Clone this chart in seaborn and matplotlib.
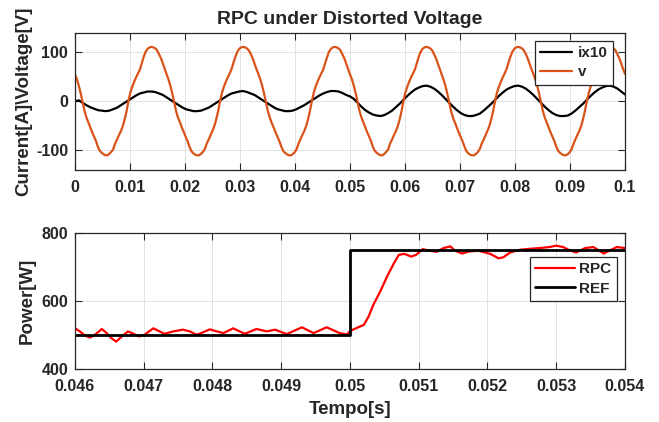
import numpy as np
import pandas as pd
import matplotlib
matplotlib.use("Agg")
import matplotlib.pyplot as plt
import seaborn as sns

# ---- data -------------------------------------------------------------
# grid voltage, sampled every 1/2880 s (48 per 60 Hz cycle), 0 .. 0.1 s
voltage = [
    55, 45, 32, 16, -2, -20, -33, -43, -53, -63, -72, -81, -93, -101, -105, -108,
    -110, -110, -107, -103, -98, -86, -78, -69, -61, -51, -37, -20, 1, 18, 30, 40,
    49, 57, 65, 78, 91, 101, 107, 110, 111, 110, 108, 104, 96, 88, 77, 66,
    55, 44, 31, 15, -3, -21, -34, -43, -54, -63, -73, -82, -93, -102, -106, -109,
    -110, -110, -107, -103, -97, -86, -78, -69, -60, -50, -36, -19, 1, 18, 30, 40,
    49, 57, 66, 79, 91, 101, 107, 110, 111, 110, 108, 104, 97, 88, 77, 66,
    56, 45, 32, 16, -2, -20, -33, -44, -53, -63, -72, -81, -92, -101, -105, -108,
    -110, -110, -108, -104, -98, -87, -78, -69, -61, -51, -37, -20, 0, 17, 30, 40,
    49, 57, 65, 78, 90, 101, 107, 110, 111, 110, 108, 104, 96, 88, 77, 66,
    55, 45, 32, 16, -2, -20, -33, -43, -53, -63, -72, -81, -93, -101, -105, -108,
    -110, -110, -107, -103, -98, -86, -78, -69, -61, -51, -37, -20, 1, 18, 30, 40,
    49, 57, 65, 78, 91, 101, 107, 110, 111, 110, 108, 104, 96, 88, 77, 66,
    55, 44, 31, 15, -3, -21, -34, -44, -54, -64, -73, -82, -93, -102, -106, -109,
    -110, -110, -107, -103, -97, -86, -78, -69, -60, -50, -36, -19, 1, 18, 30, 40,
    49, 57, 66, 79, 91, 101, 107, 110, 111, 110, 108, 104, 97, 88, 77, 66,
    56, 45, 32, 16, -2, -20, -33, -43, -53, -63, -72, -81, -92, -101, -105, -108,
    -110, -110, -108, -104, -98, -87, -78, -69, -61, -51, -37, -20, 0, 17, 30, 40,
    49, 57, 65, 78, 90, 101, 107, 110, 111, 110, 108, 104, 96, 88, 77, 66,
    56,
]
voltage_time = np.arange(len(voltage)) / 2880.0

# ten times the line current, sampled every 1/1440 s (24 per cycle)
current_x10 = [
    0, 2, -3, -8, -12, -15, -18, -19, -20, -19, -16, -13, -8, -3, 2, 7, 12, 16, 18, 20, 20, 19, 16, 13,
    8, 3, -2, -7, -12, -16, -18, -20, -20, -19, -16, -13, -8, -3, 2, 7, 12, 16, 18, 20, 21, 19, 16, 13,
    8, 3, -2, -7, -12, -16, -18, -20, -20, -19, -16, -12, -8, -3, 2, 7, 12, 16, 19, 21, 21, 20, 17, 13,
    10, 5, -3, -11, -18, -23, -27, -29, -30, -28, -24, -19, -12, -5, 3, 11, 18, 24, 28, 31, 32, 30, 26, 20,
    13, 5, -3, -11, -18, -24, -28, -30, -30, -28, -25, -19, -12, -5, 3, 11, 18, 24, 28, 31, 32, 30, 26, 20,
    13, 5, -3, -11, -18, -24, -28, -30, -30, -29, -25, -19, -12, -5, 3, 11, 18, 24, 28, 31, 32, 30, 26, 20,
    14,
]
current_time = np.arange(len(current_x10)) / 1440.0

# lower panel: measured active power of the RPC and its reference
rpc_time = [
    0.04600, 0.04607, 0.04615, 0.04622, 0.04629, 0.04639, 0.04646, 0.04653, 0.04660, 0.04668,
    0.04677, 0.04685, 0.04693, 0.04701, 0.04714, 0.04721, 0.04730, 0.04743, 0.04757, 0.04767,
    0.04777, 0.04787, 0.04796, 0.04806, 0.04816, 0.04830, 0.04847, 0.04864, 0.04879, 0.04891,
    0.04908, 0.04930, 0.04947, 0.04966, 0.04985, 0.04995, 0.05002, 0.05012, 0.05020, 0.05027,
    0.05034, 0.05044, 0.05054, 0.05064, 0.05071, 0.05079, 0.05089, 0.05096, 0.05106, 0.05116,
    0.05126, 0.05136, 0.05146, 0.05153, 0.05163, 0.05173, 0.05187, 0.05204, 0.05216, 0.05223,
    0.05233, 0.05247, 0.05262, 0.05276, 0.05290, 0.05300, 0.05310, 0.05320, 0.05329, 0.05342,
    0.05354, 0.05369, 0.05378, 0.05388, 0.05400,
]
rpc_power = [
    520, 511, 498, 493, 501, 518, 506, 491, 481, 496,
    511, 504, 496, 501, 520, 513, 504, 511, 516, 511,
    501, 509, 517, 511, 506, 520, 504, 518, 511, 516,
    503, 523, 506, 523, 506, 502, 514, 523, 530, 554,
    589, 628, 672, 711, 735, 738, 730, 735, 752, 747,
    744, 755, 760, 747, 739, 745, 747, 738, 725, 728,
    742, 750, 753, 755, 758, 762, 758, 748, 742, 755,
    758, 739, 748, 758, 755,
]
ref_time = [0.046, 0.050, 0.050, 0.054]
ref_power = [500, 500, 750, 750]

top_xticks = [0, 0.01, 0.02, 0.03, 0.04, 0.05, 0.06, 0.07, 0.08, 0.09, 0.1]
top_xticklabels = ["0", "0.01", "0.02", "0.03", "0.04", "0.05", "0.06", "0.07", "0.08", "0.09", "0.1"]
top_yticks = [-100, 0, 100]
bottom_xticks = [0.046, 0.047, 0.048, 0.049, 0.050, 0.051, 0.052, 0.053, 0.054]
bottom_xticklabels = ["0.046", "0.047", "0.048", "0.049", "0.05", "0.051", "0.052", "0.053", "0.054"]
bottom_yticks = [400, 600, 800]

# ---- style ------------------------------------------------------------
sns.set_style("ticks")
plt.rcParams["font.family"] = ["Liberation Sans", "DejaVu Sans"]
plt.rcParams["font.weight"] = "bold"
plt.rcParams["axes.labelweight"] = "bold"
plt.rcParams["axes.titleweight"] = "bold"
plt.rcParams["axes.unicode_minus"] = False

AX_COLOR = "#262626"
GRID_COLOR = "#e2e2e2"
LABEL_SIZE = 13.5
TICK_SIZE = 11.5
LEGEND_SIZE = 11


def matlab_axes(ax):
    for s in ax.spines.values():
        s.set_color(AX_COLOR)
        s.set_linewidth(0.9)
        s.set_visible(True)
    ax.tick_params(direction="in", top=True, right=True, length=5, width=0.8,
                   colors=AX_COLOR, labelsize=TICK_SIZE)
    ax.tick_params(axis="x", pad=7)
    ax.tick_params(axis="y", pad=5)
    for lab in ax.get_xticklabels() + ax.get_yticklabels():
        lab.set_fontweight("bold")
    ax.grid(True, color=GRID_COLOR, linewidth=0.7)
    ax.set_axisbelow(True)


fig = plt.figure(figsize=(6.59, 4.22), dpi=100)
ax1 = fig.add_axes([0.1138, 0.5972, 0.8346, 0.3254])
ax2 = fig.add_axes([0.1138, 0.1249, 0.8346, 0.3237])

# ---- upper panel: grid voltage and scaled current -----------------------
cur_df = pd.DataFrame({"t": current_time, "ix10": current_x10})
volt_df = pd.DataFrame({"t": voltage_time, "v": voltage})
sns.lineplot(data=cur_df, x="t", y="ix10", ax=ax1, color="black", linewidth=1.6,
             estimator=None, sort=False, label="ix10")
sns.lineplot(data=volt_df, x="t", y="v", ax=ax1, color="#D95319", linewidth=1.6,
             estimator=None, sort=False, label="v")
ax1.set_xlim(0, 0.1)
ax1.set_ylim(-140, 140)
ax1.set_xticks(top_xticks)
ax1.set_xticklabels(top_xticklabels)
ax1.set_yticks(top_yticks)
ax1.set_xlabel("")
ax1.set_ylabel("Current[A]\\Voltage[V]", fontsize=LABEL_SIZE, color=AX_COLOR, labelpad=3)
ax1.set_title("RPC under Distorted Voltage", fontsize=14, color=AX_COLOR, pad=6)
matlab_axes(ax1)
leg1 = ax1.legend(loc="upper right", bbox_to_anchor=(0.978, 0.942), borderaxespad=0,
                  frameon=True, fancybox=False, framealpha=1, edgecolor=AX_COLOR,
                  prop={"weight": "bold", "size": LEGEND_SIZE}, handlelength=2.1,
                  handletextpad=0.35, labelspacing=0.35, borderpad=0.35)
leg1.get_frame().set_linewidth(0.9)

# ---- lower panel: power tracking --------------------------------------
rpc_df = pd.DataFrame({"t": rpc_time, "P": rpc_power})
ref_df = pd.DataFrame({"t": ref_time, "P": ref_power})
sns.lineplot(data=rpc_df, x="t", y="P", ax=ax2, color="#FF0000", linewidth=1.6,
             estimator=None, sort=False, label="RPC")
sns.lineplot(data=ref_df, x="t", y="P", ax=ax2, color="black", linewidth=2.0,
             estimator=None, sort=False, label="REF")
ax2.set_xlim(0.046, 0.054)
ax2.set_ylim(400, 800)
ax2.set_xticks(bottom_xticks)
ax2.set_xticklabels(bottom_xticklabels)
ax2.set_yticks(bottom_yticks)
ax2.set_xlabel("Tempo[s]", fontsize=LABEL_SIZE, color=AX_COLOR, labelpad=5)
ax2.set_ylabel("Power[W]", fontsize=LABEL_SIZE, color=AX_COLOR, labelpad=4)
matlab_axes(ax2)
leg2 = ax2.legend(loc="upper right", bbox_to_anchor=(0.985, 0.822), borderaxespad=0,
                  frameon=True, fancybox=False, framealpha=1, edgecolor=AX_COLOR,
                  prop={"weight": "bold", "size": LEGEND_SIZE}, handlelength=2.6,
                  handletextpad=0.3, labelspacing=0.35, borderpad=0.35)
leg2.get_frame().set_linewidth(0.9)

fig.savefig("out.png", dpi=100)
